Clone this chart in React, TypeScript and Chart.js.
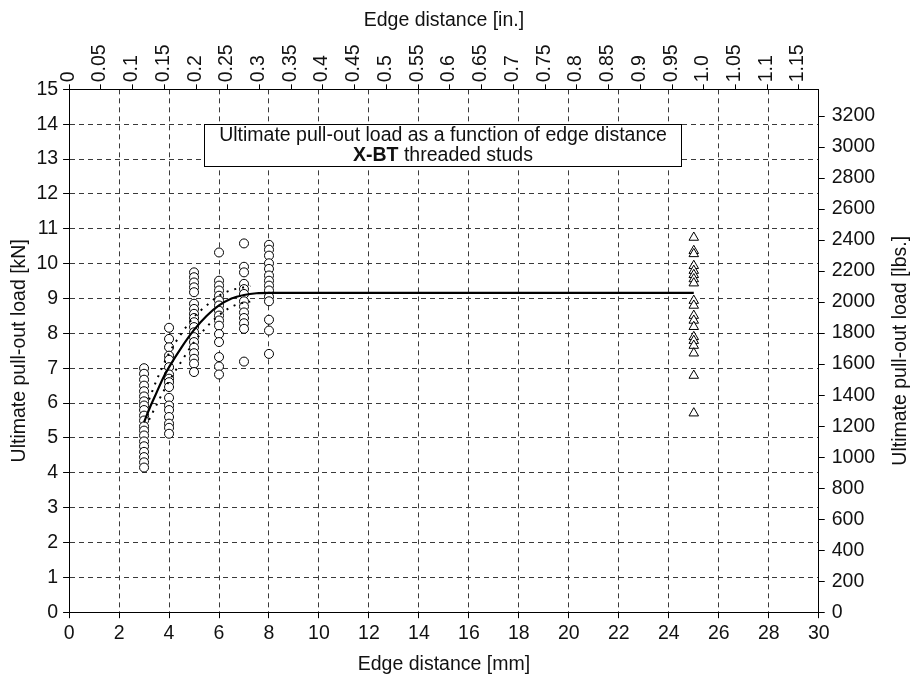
import React, { useEffect, useRef } from "react";
import { Chart, registerables } from "chart.js";

Chart.register(...registerables);

// ---------------- data ----------------
const MM_PER_INCH = 25.4;
const LBS_PER_KN = 224.809;

const inchTickLabels = [
  "0", "0.05", "0.1", "0.15", "0.2", "0.25", "0.3", "0.35", "0.4", "0.45", "0.5", "0.55",
  "0.6", "0.65", "0.7", "0.75", "0.8", "0.85", "0.9", "0.95", "1.0", "1.05", "1.1", "1.15",
];
const lbsTickValues = [0, 200, 400, 600, 800, 1000, 1200, 1400, 1600, 1800, 2000, 2200, 2400, 2600, 2800, 3000, 3200];

const loads3mm = [7.0, 6.84, 6.67, 6.5, 6.34, 6.19, 6.05, 5.93, 5.8, 5.64, 5.5, 5.33, 5.21, 5.07, 4.9, 4.76, 4.6, 4.45, 4.3, 4.15];
const loads4mm = [8.16, 7.84, 7.6, 7.36, 7.24, 7.03, 6.82, 6.7, 6.6, 6.46, 6.15, 5.93, 5.8, 5.6, 5.41, 5.29, 5.12];
const loads5mm = [9.75, 9.61, 9.46, 9.32, 9.18, 8.85, 8.7, 8.56, 8.44, 8.32, 8.18, 8.03, 7.89, 7.75, 7.59, 7.43, 7.27, 7.13, 6.89];
const loads6mm = [10.32, 9.51, 9.37, 9.23, 9.08, 8.94, 8.8, 8.65, 8.51, 8.37, 8.22, 7.98, 7.75, 7.32, 7.05, 6.82];
const loads7mm = [10.58, 9.91, 9.75, 9.42, 9.27, 9.13, 8.92, 8.77, 8.6, 8.44, 8.29, 8.13, 7.19];
const loads8mm = [10.54, 10.4, 10.23, 10.01, 9.85, 9.66, 9.51, 9.37, 9.23, 9.05, 8.92, 8.39, 8.08, 7.41];
const loads25mm = [10.75, 10.37, 10.28, 9.94, 9.8, 9.68, 9.56, 9.44, 8.94, 8.8, 8.51, 8.37, 8.19, 7.9, 7.79, 7.65, 7.43, 6.79, 5.71];

const fitMeanX = [3, 3.25, 3.5, 3.75, 4, 4.5, 5, 5.5, 6, 6.5, 7, 7.5, 8, 25];
const fitMeanY = [5.45, 5.9, 6.3, 6.7, 7.03, 7.6, 8.1, 8.5, 8.8, 9.0, 9.1, 9.15, 9.16, 9.16];

const fitBandX = [3.2, 3.5, 4, 4.5, 5, 5.5, 6, 6.5, 7, 7.25];
const fitUpperY = [6.1, 6.65, 7.43, 8.0, 8.47, 8.8, 9.08, 9.24, 9.32, 9.36];
const fitLowerY = [5.52, 5.95, 6.63, 7.2, 7.75, 8.18, 8.52, 8.76, 8.88, 8.91];

const boxLine1 = "Ultimate pull-out load as a function of edge distance";
const boxLine2Bold = "X-BT";
const boxLine2Rest = " threaded studs";

// ---------------- helpers ----------------
const FONT = "'Liberation Sans', Arial, Helvetica, sans-serif";
const FS = 19.5;
const TEXT = "#111";
const GRID = "#3a3a3a";

const column = (x: number, ys: number[]) => ys.map((y) => ({ x, y }));
const curve = (xs: number[], ys: number[]) => xs.map((x, i) => ({ x, y: ys[i] }));

const boxPlugin = {
  id: "titleBox",
  afterDraw(chart: any) {
    const { ctx, scales } = chart;
    const x = scales.x;
    const y = scales.y;
    const left = Math.round(x.getPixelForValue(5.38)) + 0.5;
    const right = Math.round(x.getPixelForValue(24.49)) + 0.5;
    const top = Math.round(y.getPixelForValue(14.0)) + 0.5;
    const bottom = Math.round(y.getPixelForValue(12.8)) + 0.5;
    ctx.save();
    ctx.fillStyle = "#fff";
    ctx.fillRect(left, top, right - left, bottom - top);
    ctx.strokeStyle = "#000";
    ctx.lineWidth = 1;
    ctx.strokeRect(left, top, right - left, bottom - top);
    const cx = (left + right) / 2;
    const h = bottom - top;
    ctx.fillStyle = TEXT;
    ctx.textBaseline = "middle";
    ctx.textAlign = "center";
    ctx.font = `${FS}px ${FONT}`;
    ctx.fillText(boxLine1, cx, top + h * 0.27);
    ctx.font = `bold ${FS}px ${FONT}`;
    const w1 = ctx.measureText(boxLine2Bold).width;
    ctx.font = `${FS}px ${FONT}`;
    const w2 = ctx.measureText(boxLine2Rest).width;
    const sx = cx - (w1 + w2) / 2;
    ctx.textAlign = "left";
    ctx.font = `bold ${FS}px ${FONT}`;
    ctx.fillText(boxLine2Bold, sx, top + h * 0.74);
    ctx.font = `${FS}px ${FONT}`;
    ctx.fillText(boxLine2Rest, sx + w1, top + h * 0.74);
    ctx.restore();
  },
};

const rightTitlePlugin = {
  id: "rightTitle",
  afterDraw(chart: any) {
    const s = chart.scales.yr;
    const { ctx } = chart;
    ctx.save();
    ctx.translate(s.right - 4 - FS * 0.6, (chart.chartArea.top + chart.chartArea.bottom) / 2);
    ctx.rotate(-Math.PI / 2);
    ctx.fillStyle = TEXT;
    ctx.font = `${FS}px ${FONT}`;
    ctx.textAlign = "center";
    ctx.textBaseline = "middle";
    ctx.fillText("Ultimate pull-out load [lbs.]", 0, 0);
    ctx.restore();
  },
};

export default function App() {
  const ref = useRef<HTMLCanvasElement | null>(null);

  useEffect(() => {
    if (!ref.current) return;
    const circle = {
      type: "scatter" as const,
      pointStyle: "circle",
      pointRadius: 4.5,
      pointBorderWidth: 1,
      pointBackgroundColor: "#fff",
      pointBorderColor: "#000",
      showLine: false,
    };
    const font = { family: FONT, size: FS };
    const chart = new Chart(ref.current, {
      type: "scatter",
      data: {
        datasets: [
          {
            type: "line",
            data: curve(fitMeanX, fitMeanY),
            borderColor: "#000",
            borderWidth: 2.2,
            pointRadius: 0,
            cubicInterpolationMode: "monotone",
            fill: false,
          } as any,
          {
            type: "line",
            data: curve(fitBandX, fitUpperY),
            borderColor: "#000",
            borderWidth: 2,
            borderDash: [2, 6],
            pointRadius: 0,
            cubicInterpolationMode: "monotone",
            fill: false,
          } as any,
          {
            type: "line",
            data: curve(fitBandX, fitLowerY),
            borderColor: "#000",
            borderWidth: 2,
            borderDash: [2, 6],
            pointRadius: 0,
            cubicInterpolationMode: "monotone",
            fill: false,
          } as any,
          { ...circle, data: column(3, loads3mm) },
          { ...circle, data: column(4, loads4mm) },
          { ...circle, data: column(5, loads5mm) },
          { ...circle, data: column(6, loads6mm) },
          { ...circle, data: column(7, loads7mm) },
          { ...circle, data: column(8, loads8mm) },
          {
            ...circle,
            pointStyle: "triangle",
            pointRadius: 5.5,
            data: column(25, loads25mm),
          },
        ] as any,
      },
      options: {
        animation: false,
        responsive: false,
        devicePixelRatio: 1,
        layout: { padding: { left: 4, right: 6, top: 4, bottom: 2 } },
        plugins: { legend: { display: false }, tooltip: { enabled: false } },
        font,
        scales: {
          x: {
            type: "linear",
            position: "bottom",
            min: 0,
            max: 30,
            ticks: { stepSize: 2, color: TEXT, font, padding: 4, maxRotation: 0 },
            grid: { color: GRID, lineWidth: 1, tickLength: 6, tickColor: "#000" },
            border: { display: true, color: "#000", width: 1, dash: [5, 4] },
            title: { display: true, text: "Edge distance [mm]", color: TEXT, font, padding: { top: 3, bottom: 2 } },
          },
          xt: {
            type: "linear",
            position: "top",
            min: 0,
            max: 30 / MM_PER_INCH,
            afterBuildTicks: (axis: any) => {
              axis.ticks = inchTickLabels.map((l) => ({ value: parseFloat(l) }));
            },
            ticks: {
              color: TEXT,
              font,
              padding: 2,
              minRotation: 90,
              maxRotation: 90,
              autoSkip: false,
              labelOffset: 22.5,
              callback: (_v: any, i: number) => inchTickLabels[i],
            },
            grid: { drawOnChartArea: false, tickLength: 5, tickColor: "#000" },
            border: { display: true, color: "#000", width: 1 },
            title: { display: true, text: "Edge distance [in.]", color: TEXT, font, padding: { top: 5, bottom: 10 } },
          },
          y: {
            type: "linear",
            position: "left",
            min: 0,
            max: 15,
            ticks: { stepSize: 1, color: TEXT, font, padding: 5 },
            grid: { color: GRID, lineWidth: 1, tickLength: 6, tickColor: "#000" },
            border: { display: true, color: "#000", width: 1, dash: [5, 4] },
            title: { display: true, text: "Ultimate pull-out load [kN]", color: TEXT, font, padding: { top: 4, bottom: 0 } },
          },
          yr: {
            type: "linear",
            position: "right",
            min: 0,
            max: 15 * LBS_PER_KN,
            afterBuildTicks: (axis: any) => {
              axis.ticks = lbsTickValues.map((v) => ({ value: v }));
            },
            ticks: {
              color: TEXT,
              font,
              padding: 7,
              autoSkip: false,
              callback: (v: any) => String(v),
            },
            grid: { drawOnChartArea: false, tickLength: 6, tickColor: "#000" },
            border: { display: true, color: "#000", width: 1 },
            title: { display: true, text: "Ultimate pull-out load [lbs.]", color: "rgba(0,0,0,0)", font, padding: { top: 4, bottom: 6.5 } },
          },
        },
      } as any,
      plugins: [boxPlugin, rightTitlePlugin],
    });
    return () => chart.destroy();
  }, []);

  return (
    <div style={{ position: "absolute", left: 0, top: 0, width: 922, height: 680, background: "#fff" }}>
      <canvas ref={ref} width={922} height={680} />
    </div>
  );
}
